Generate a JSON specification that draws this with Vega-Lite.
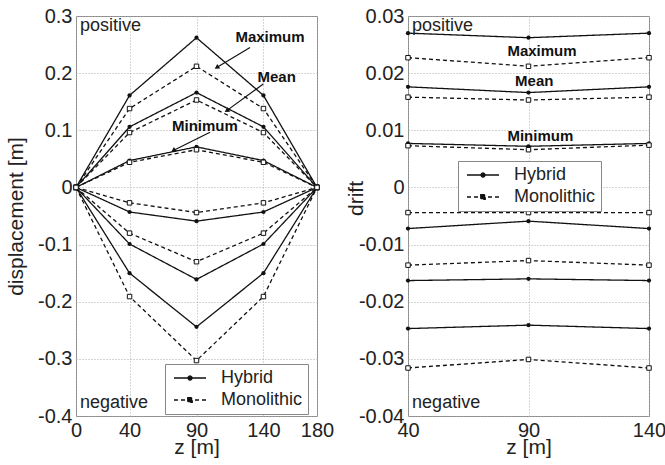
{
  "$schema": "https://vega.github.io/schema/vega-lite/v6.json",
  "background": "white",
  "spacing": 9,
  "config": {
    "font": "Liberation Sans",
    "view": {"stroke": "#888", "strokeWidth": 1},
    "axis": {"labelFontSize": 20, "titleFontSize": 21, "titleFontWeight": "normal", "labelColor": "#222", "titleColor": "#222", "ticks": false, "domain": false, "grid": true, "gridColor": "#aaaaaa", "gridDash": [1, 2], "labelPadding": 4, "labelFlush": false, "labelOverlap": false},
    "legend": {"title": null, "orient": "none", "direction": "vertical", "strokeColor": "#888", "fillColor": "white", "padding": 5, "labelFontSize": 18, "labelColor": "#222", "labelFont": "Liberation Sans", "symbolSize": 100, "symbolOffset": 11, "labelOffset": 22, "rowPadding": 4, "symbolStrokeWidth": 1.3, "symbolStrokeColor": "#111", "symbolFillColor": "#111", "symbolType": "M-3.2,0H3.2M-0.4,0A0.4,0.4 0 1,1 0.4,0A0.4,0.4 0 1,1 -0.4,0Z"}
  },
  "resolve": {"scale": {"strokeDash": "independent"}, "legend": {"strokeDash": "independent"}},
  "datasets": {
    "left": [
      {"z": 0, "v": 0, "type": "Hybrid", "stat": "max", "sign": "pos"},
      {"z": 40, "v": 0.161, "type": "Hybrid", "stat": "max", "sign": "pos"},
      {"z": 90, "v": 0.262, "type": "Hybrid", "stat": "max", "sign": "pos"},
      {"z": 140, "v": 0.161, "type": "Hybrid", "stat": "max", "sign": "pos"},
      {"z": 180, "v": 0, "type": "Hybrid", "stat": "max", "sign": "pos"},
      {"z": 0, "v": 0, "type": "Monolithic", "stat": "max", "sign": "pos"},
      {"z": 40, "v": 0.138, "type": "Monolithic", "stat": "max", "sign": "pos"},
      {"z": 90, "v": 0.212, "type": "Monolithic", "stat": "max", "sign": "pos"},
      {"z": 140, "v": 0.138, "type": "Monolithic", "stat": "max", "sign": "pos"},
      {"z": 180, "v": 0, "type": "Monolithic", "stat": "max", "sign": "pos"},
      {"z": 0, "v": 0, "type": "Hybrid", "stat": "mean", "sign": "pos"},
      {"z": 40, "v": 0.106, "type": "Hybrid", "stat": "mean", "sign": "pos"},
      {"z": 90, "v": 0.166, "type": "Hybrid", "stat": "mean", "sign": "pos"},
      {"z": 140, "v": 0.106, "type": "Hybrid", "stat": "mean", "sign": "pos"},
      {"z": 180, "v": 0, "type": "Hybrid", "stat": "mean", "sign": "pos"},
      {"z": 0, "v": 0, "type": "Monolithic", "stat": "mean", "sign": "pos"},
      {"z": 40, "v": 0.096, "type": "Monolithic", "stat": "mean", "sign": "pos"},
      {"z": 90, "v": 0.153, "type": "Monolithic", "stat": "mean", "sign": "pos"},
      {"z": 140, "v": 0.096, "type": "Monolithic", "stat": "mean", "sign": "pos"},
      {"z": 180, "v": 0, "type": "Monolithic", "stat": "mean", "sign": "pos"},
      {"z": 0, "v": 0, "type": "Hybrid", "stat": "min", "sign": "pos"},
      {"z": 40, "v": 0.047, "type": "Hybrid", "stat": "min", "sign": "pos"},
      {"z": 90, "v": 0.071, "type": "Hybrid", "stat": "min", "sign": "pos"},
      {"z": 140, "v": 0.047, "type": "Hybrid", "stat": "min", "sign": "pos"},
      {"z": 180, "v": 0, "type": "Hybrid", "stat": "min", "sign": "pos"},
      {"z": 0, "v": 0, "type": "Monolithic", "stat": "min", "sign": "pos"},
      {"z": 40, "v": 0.044, "type": "Monolithic", "stat": "min", "sign": "pos"},
      {"z": 90, "v": 0.066, "type": "Monolithic", "stat": "min", "sign": "pos"},
      {"z": 140, "v": 0.044, "type": "Monolithic", "stat": "min", "sign": "pos"},
      {"z": 180, "v": 0, "type": "Monolithic", "stat": "min", "sign": "pos"},
      {"z": 0, "v": 0, "type": "Monolithic", "stat": "min", "sign": "neg"},
      {"z": 40, "v": -0.027, "type": "Monolithic", "stat": "min", "sign": "neg"},
      {"z": 90, "v": -0.044, "type": "Monolithic", "stat": "min", "sign": "neg"},
      {"z": 140, "v": -0.027, "type": "Monolithic", "stat": "min", "sign": "neg"},
      {"z": 180, "v": 0, "type": "Monolithic", "stat": "min", "sign": "neg"},
      {"z": 0, "v": 0, "type": "Hybrid", "stat": "min", "sign": "neg"},
      {"z": 40, "v": -0.043, "type": "Hybrid", "stat": "min", "sign": "neg"},
      {"z": 90, "v": -0.059, "type": "Hybrid", "stat": "min", "sign": "neg"},
      {"z": 140, "v": -0.043, "type": "Hybrid", "stat": "min", "sign": "neg"},
      {"z": 180, "v": 0, "type": "Hybrid", "stat": "min", "sign": "neg"},
      {"z": 0, "v": 0, "type": "Monolithic", "stat": "mean", "sign": "neg"},
      {"z": 40, "v": -0.080, "type": "Monolithic", "stat": "mean", "sign": "neg"},
      {"z": 90, "v": -0.130, "type": "Monolithic", "stat": "mean", "sign": "neg"},
      {"z": 140, "v": -0.080, "type": "Monolithic", "stat": "mean", "sign": "neg"},
      {"z": 180, "v": 0, "type": "Monolithic", "stat": "mean", "sign": "neg"},
      {"z": 0, "v": 0, "type": "Hybrid", "stat": "mean", "sign": "neg"},
      {"z": 40, "v": -0.099, "type": "Hybrid", "stat": "mean", "sign": "neg"},
      {"z": 90, "v": -0.161, "type": "Hybrid", "stat": "mean", "sign": "neg"},
      {"z": 140, "v": -0.099, "type": "Hybrid", "stat": "mean", "sign": "neg"},
      {"z": 180, "v": 0, "type": "Hybrid", "stat": "mean", "sign": "neg"},
      {"z": 0, "v": 0, "type": "Hybrid", "stat": "max", "sign": "neg"},
      {"z": 40, "v": -0.150, "type": "Hybrid", "stat": "max", "sign": "neg"},
      {"z": 90, "v": -0.244, "type": "Hybrid", "stat": "max", "sign": "neg"},
      {"z": 140, "v": -0.150, "type": "Hybrid", "stat": "max", "sign": "neg"},
      {"z": 180, "v": 0, "type": "Hybrid", "stat": "max", "sign": "neg"},
      {"z": 0, "v": 0, "type": "Monolithic", "stat": "max", "sign": "neg"},
      {"z": 40, "v": -0.191, "type": "Monolithic", "stat": "max", "sign": "neg"},
      {"z": 90, "v": -0.303, "type": "Monolithic", "stat": "max", "sign": "neg"},
      {"z": 140, "v": -0.191, "type": "Monolithic", "stat": "max", "sign": "neg"},
      {"z": 180, "v": 0, "type": "Monolithic", "stat": "max", "sign": "neg"}
    ],
    "right": [
      {"z": 40, "v": 0.0270, "type": "Hybrid", "stat": "max", "sign": "pos"},
      {"z": 90, "v": 0.0262, "type": "Hybrid", "stat": "max", "sign": "pos"},
      {"z": 140, "v": 0.0270, "type": "Hybrid", "stat": "max", "sign": "pos"},
      {"z": 40, "v": 0.0227, "type": "Monolithic", "stat": "max", "sign": "pos"},
      {"z": 90, "v": 0.0212, "type": "Monolithic", "stat": "max", "sign": "pos"},
      {"z": 140, "v": 0.0227, "type": "Monolithic", "stat": "max", "sign": "pos"},
      {"z": 40, "v": 0.0176, "type": "Hybrid", "stat": "mean", "sign": "pos"},
      {"z": 90, "v": 0.0166, "type": "Hybrid", "stat": "mean", "sign": "pos"},
      {"z": 140, "v": 0.0176, "type": "Hybrid", "stat": "mean", "sign": "pos"},
      {"z": 40, "v": 0.0158, "type": "Monolithic", "stat": "mean", "sign": "pos"},
      {"z": 90, "v": 0.0153, "type": "Monolithic", "stat": "mean", "sign": "pos"},
      {"z": 140, "v": 0.0158, "type": "Monolithic", "stat": "mean", "sign": "pos"},
      {"z": 40, "v": 0.0077, "type": "Hybrid", "stat": "min", "sign": "pos"},
      {"z": 90, "v": 0.0072, "type": "Hybrid", "stat": "min", "sign": "pos"},
      {"z": 140, "v": 0.0077, "type": "Hybrid", "stat": "min", "sign": "pos"},
      {"z": 40, "v": 0.0073, "type": "Monolithic", "stat": "min", "sign": "pos"},
      {"z": 90, "v": 0.0066, "type": "Monolithic", "stat": "min", "sign": "pos"},
      {"z": 140, "v": 0.0074, "type": "Monolithic", "stat": "min", "sign": "pos"},
      {"z": 40, "v": -0.0044, "type": "Monolithic", "stat": "min", "sign": "neg"},
      {"z": 90, "v": -0.0044, "type": "Monolithic", "stat": "min", "sign": "neg"},
      {"z": 140, "v": -0.0044, "type": "Monolithic", "stat": "min", "sign": "neg"},
      {"z": 40, "v": -0.0072, "type": "Hybrid", "stat": "min", "sign": "neg"},
      {"z": 90, "v": -0.0059, "type": "Hybrid", "stat": "min", "sign": "neg"},
      {"z": 140, "v": -0.0072, "type": "Hybrid", "stat": "min", "sign": "neg"},
      {"z": 40, "v": -0.0136, "type": "Monolithic", "stat": "mean", "sign": "neg"},
      {"z": 90, "v": -0.0128, "type": "Monolithic", "stat": "mean", "sign": "neg"},
      {"z": 140, "v": -0.0136, "type": "Monolithic", "stat": "mean", "sign": "neg"},
      {"z": 40, "v": -0.0163, "type": "Hybrid", "stat": "mean", "sign": "neg"},
      {"z": 90, "v": -0.0160, "type": "Hybrid", "stat": "mean", "sign": "neg"},
      {"z": 140, "v": -0.0163, "type": "Hybrid", "stat": "mean", "sign": "neg"},
      {"z": 40, "v": -0.0247, "type": "Hybrid", "stat": "max", "sign": "neg"},
      {"z": 90, "v": -0.0241, "type": "Hybrid", "stat": "max", "sign": "neg"},
      {"z": 140, "v": -0.0247, "type": "Hybrid", "stat": "max", "sign": "neg"},
      {"z": 40, "v": -0.0316, "type": "Monolithic", "stat": "max", "sign": "neg"},
      {"z": 90, "v": -0.0301, "type": "Monolithic", "stat": "max", "sign": "neg"},
      {"z": 140, "v": -0.0316, "type": "Monolithic", "stat": "max", "sign": "neg"}
    ],
    "annL": [
      {"z": 144.9, "v": 0.2635, "label": "Maximum"},
      {"z": 149.9, "v": 0.1937, "label": "Mean"},
      {"z": 96.3, "v": 0.107, "label": "Minimum"}
    ],
    "arrowsL": [
      {"z": 130.0, "v": 0.2449, "z2": 105.1, "v2": 0.2099},
      {"z": 139.9, "v": 0.181, "z2": 112.6, "v2": 0.1344},
      {"z": 100.1, "v": 0.0965, "z2": 72.7, "v2": 0.0646}
    ],
    "cornerL": [
      {"z": 3, "v": 0.283, "label": "positive"},
      {"z": 3, "v": -0.377, "label": "negative"}
    ],
    "annR": [
      {"z": 95.6, "v": 0.0239, "label": "Maximum"},
      {"z": 92.4, "v": 0.01867, "label": "Mean"},
      {"z": 94.9, "v": 0.00907, "label": "Minimum"}
    ],
    "cornerR": [
      {"z": 41.7, "v": 0.0283, "label": "positive"},
      {"z": 41.7, "v": -0.0377, "label": "negative"}
    ]
  },
  "hconcat": [
    {
      "width": 241,
      "height": 400,
      "layer": [
        {
          "data": {"name": "left"},
          "mark": {"type": "line", "strokeWidth": 1.3, "color": "#111"},
          "encoding": {
            "x": {"field": "z", "type": "quantitative", "title": "z [m]", "scale": {"domain": [0, 180], "nice": false, "zero": false}, "axis": {"values": [0, 40, 90, 140, 180], "titlePadding": -4}},
            "y": {"field": "v", "type": "quantitative", "title": "displacement [m]", "scale": {"domain": [-0.4, 0.3], "nice": false, "zero": false}, "axis": {"values": [-0.4, -0.3, -0.2, -0.1, 0, 0.1, 0.2, 0.3], "labelExpr": "'' + datum.value", "titlePadding": 11}},
            "strokeDash": {"field": "type", "type": "nominal", "scale": {"domain": ["Hybrid", "Monolithic"], "range": [[1, 0], [4, 3]]}, "legend": {"legendX": 89, "legendY": 348, "encode": {"symbols": {"update": {"shape": {"signal": "datum.value === 'Hybrid' ? 'M-3.2,0H3.2M-0.4,0A0.4,0.4 0 1,1 0.4,0A0.4,0.4 0 1,1 -0.4,0Z' : 'M-3.2,0H3.2M-0.45,-0.45H0.45V0.45H-0.45Z'"}}}}}},
            "detail": [{"field": "stat"}, {"field": "sign"}]
          }
        },
        {
          "data": {"name": "left"},
          "transform": [{"filter": "datum.type === 'Hybrid'"}],
          "mark": {"type": "point", "shape": "circle", "filled": true, "size": 18, "color": "#111", "opacity": 1},
          "encoding": {
            "x": {"field": "z", "type": "quantitative", "title": "z [m]"},
            "y": {"field": "v", "type": "quantitative", "title": "displacement [m]"}
          }
        },
        {
          "data": {"name": "left"},
          "transform": [{"filter": "datum.type === 'Monolithic'"}],
          "mark": {"type": "point", "shape": "square", "filled": true, "size": 20, "fill": "white", "stroke": "#111", "strokeWidth": 1, "opacity": 1},
          "encoding": {
            "x": {"field": "z", "type": "quantitative", "title": "z [m]"},
            "y": {"field": "v", "type": "quantitative", "title": "displacement [m]"}
          }
        },
        {
          "data": {"name": "arrowsL"},
          "mark": {"type": "rule", "color": "#111", "strokeWidth": 1.2},
          "encoding": {
            "x": {"field": "z", "type": "quantitative", "title": "z [m]"},
            "y": {"field": "v", "type": "quantitative", "title": "displacement [m]"},
            "x2": {"field": "z2"},
            "y2": {"field": "v2"}
          }
        },
        {
          "data": {"name": "arrowsL"},
          "mark": {"type": "point", "shape": "triangle-up", "filled": true, "color": "#111", "size": 30, "angle": 238, "opacity": 1},
          "encoding": {
            "x": {"field": "z2", "type": "quantitative", "title": "z [m]"},
            "y": {"field": "v2", "type": "quantitative", "title": "displacement [m]"}
          }
        },
        {
          "data": {"name": "annL"},
          "mark": {"type": "text", "fontSize": 15, "fontWeight": "bold", "color": "#111", "align": "center", "baseline": "middle"},
          "encoding": {
            "x": {"field": "z", "type": "quantitative", "title": "z [m]"},
            "y": {"field": "v", "type": "quantitative", "title": "displacement [m]"},
            "text": {"field": "label"}
          }
        },
        {
          "data": {"name": "cornerL"},
          "mark": {"type": "text", "fontSize": 18, "color": "#222", "align": "left", "baseline": "middle"},
          "encoding": {
            "x": {"field": "z", "type": "quantitative", "title": "z [m]"},
            "y": {"field": "v", "type": "quantitative", "title": "displacement [m]"},
            "text": {"field": "label"}
          }
        }
      ]
    },
    {
      "width": 241,
      "height": 400,
      "layer": [
        {
          "data": {"name": "right"},
          "mark": {"type": "line", "strokeWidth": 1.3, "color": "#111"},
          "encoding": {
            "x": {"field": "z", "type": "quantitative", "title": "z [m]", "scale": {"domain": [40, 140], "nice": false, "zero": false}, "axis": {"values": [40, 90, 140], "titlePadding": -4}},
            "y": {"field": "v", "type": "quantitative", "title": "drift", "scale": {"domain": [-0.04, 0.03], "nice": false, "zero": false}, "axis": {"values": [-0.04, -0.03, -0.02, -0.01, 0, 0.01, 0.02, 0.03], "labelExpr": "'' + datum.value", "titleX": -42, "titleY": 182}},
            "strokeDash": {"field": "type", "type": "nominal", "scale": {"domain": ["Hybrid", "Monolithic"], "range": [[1, 0], [4, 3]]}, "legend": {"legendX": 50, "legendY": 145, "encode": {"symbols": {"update": {"shape": {"signal": "datum.value === 'Hybrid' ? 'M-3.2,0H3.2M-0.4,0A0.4,0.4 0 1,1 0.4,0A0.4,0.4 0 1,1 -0.4,0Z' : 'M-3.2,0H3.2M-0.45,-0.45H0.45V0.45H-0.45Z'"}}}}}},
            "detail": [{"field": "stat"}, {"field": "sign"}]
          }
        },
        {
          "data": {"name": "right"},
          "transform": [{"filter": "datum.type === 'Hybrid'"}],
          "mark": {"type": "point", "shape": "circle", "filled": true, "size": 18, "color": "#111", "opacity": 1},
          "encoding": {
            "x": {"field": "z", "type": "quantitative", "title": "z [m]"},
            "y": {"field": "v", "type": "quantitative", "title": "drift"}
          }
        },
        {
          "data": {"name": "right"},
          "transform": [{"filter": "datum.type === 'Monolithic'"}],
          "mark": {"type": "point", "shape": "square", "filled": true, "size": 20, "fill": "white", "stroke": "#111", "strokeWidth": 1, "opacity": 1},
          "encoding": {
            "x": {"field": "z", "type": "quantitative", "title": "z [m]"},
            "y": {"field": "v", "type": "quantitative", "title": "drift"}
          }
        },
        {
          "data": {"name": "annR"},
          "mark": {"type": "text", "fontSize": 15, "fontWeight": "bold", "color": "#111", "align": "center", "baseline": "middle"},
          "encoding": {
            "x": {"field": "z", "type": "quantitative", "title": "z [m]"},
            "y": {"field": "v", "type": "quantitative", "title": "drift"},
            "text": {"field": "label"}
          }
        },
        {
          "data": {"name": "cornerR"},
          "mark": {"type": "text", "fontSize": 18, "color": "#222", "align": "left", "baseline": "middle"},
          "encoding": {
            "x": {"field": "z", "type": "quantitative", "title": "z [m]"},
            "y": {"field": "v", "type": "quantitative", "title": "drift"},
            "text": {"field": "label"}
          }
        }
      ]
    }
  ]
}
